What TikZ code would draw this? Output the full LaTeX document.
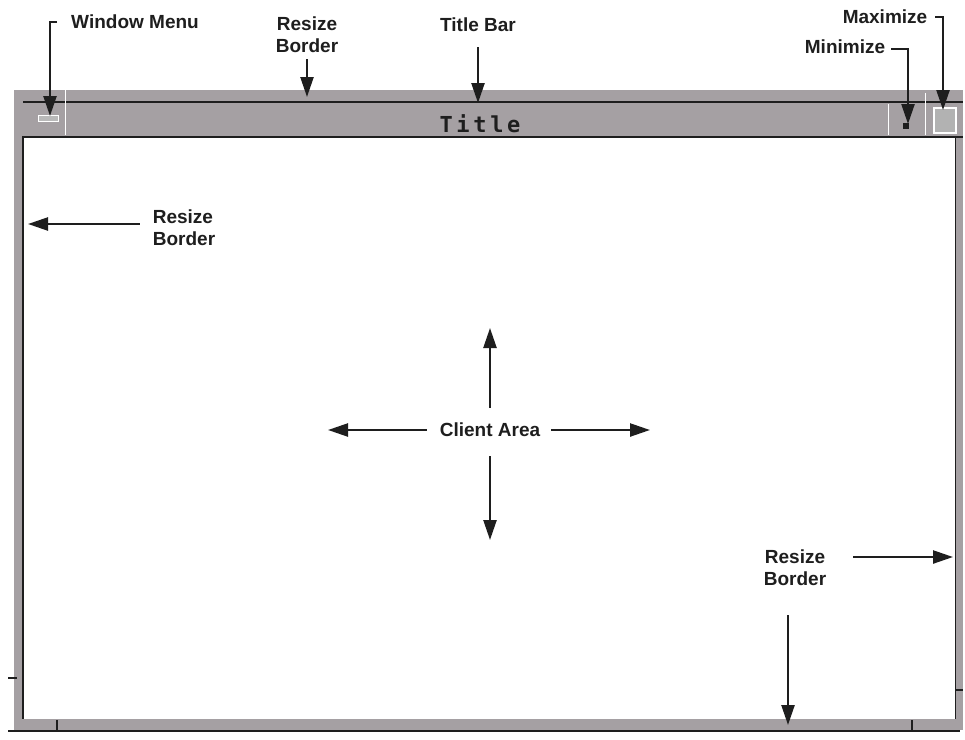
\documentclass[tikz,border=0pt]{standalone}
\usepackage{fontspec}
\setmainfont{Liberation Sans}
\setmonofont{DejaVu Sans Mono}
\usetikzlibrary{arrows.meta}
\definecolor{ink}{RGB}{30,30,30}
\definecolor{screen}{RGB}{165,160,163}
\begin{document}
\begin{tikzpicture}[x=1pt,y=-1pt,
  lbl/.style={font=\fontsize{19}{22}\selectfont\bfseries,text=ink,align=center,inner sep=1pt},
  arr/.style={draw=ink,line width=2.4pt,-{Triangle[length=20pt,width=13pt]}}]
\useasboundingbox (0,0) rectangle (965,739);
% window frame
\fill[screen] (14,90) rectangle (963,730);
\fill[white] (23,137) rectangle (955,719);
\draw[ink,line width=1.5pt] (23,102) -- (963,102);
\draw[ink,line width=2.5pt] (22,137) -- (963,137);
\draw[ink,line width=2pt] (23,137) -- (23,719);
\draw[ink,line width=2pt] (8,731) -- (960,731);
\draw[ink,line width=.8pt] (955,137) -- (955,719);
\draw[white,line width=1pt] (65,90) -- (65,135);
\draw[white,line width=1pt] (888,104) -- (888,135);
\draw[white,line width=1pt] (925,93) -- (925,135);
\foreach \x in {57,912}
\draw[ink,line width=1.5pt] (\x,720) -- (\x,730);
\draw[ink,line width=1.5pt] (8,678) -- (17,678);
\draw[ink,line width=1.5pt] (955,690) -- (963,690);
% buttons
\draw[white,fill=gray!55,line width=1pt] (38,115) rectangle (58,121);
\fill[ink] (903,123) rectangle (909,129);
\draw[white,fill=gray!60,line width=1.2pt] (934,108) rectangle (956,133);
\node[font=\fontsize{22}{22}\selectfont\ttfamily\bfseries,text=ink] (title) at (480,124) {T\,i\,t\,l\,e};
% labels
\node[lbl] (wm) at (135,22) {Window Menu};
\node[lbl] (rbtop) at (307,35) {Resize\\Border};
\node[lbl] (tb) at (478,25) {Title Bar};
\node[lbl] (max) at (885,17) {Maximize};
\node[lbl] (min) at (845,47) {Minimize};
\node[lbl,align=left] (rbleft) at (184,228) {Resize\\Border};
\node[lbl] (ca) at (490,430) {Client Area};
\node[lbl] (rbright) at (795,568) {Resize\\Border};
\coordinate (wmtip) at (50,116);
\coordinate (rbtoptip) at (307,97);
\coordinate (tbtip) at (478,103);
\coordinate (maxtip) at (943,110);
\coordinate (mintip) at (908,124);
\coordinate (rblefttip) at (28,224);
\coordinate (caup) at (490,328);
\coordinate (cadown) at (490,540);
\coordinate (caleft) at (328,430);
\coordinate (caright) at (650,430);
\coordinate (rbrighttip) at (953,557);
\coordinate (rbbottip) at (788,725);
% arrows
\draw[arr] ([xshift=-13pt]wm.west) -| (wmtip);
\draw[arr] ([yshift=-5pt]rbtop.south) -- (rbtoptip);
\draw[arr] ([yshift=-14pt]tb.south) -- (tbtip);
\draw[arr] ([xshift=7pt]max.east) -| (maxtip);
\draw[arr] ([xshift=5pt,yshift=-2pt]min.east) -| (mintip);
\draw[arr,shorten <=12pt] (rbleft.west |- rblefttip) -- (rblefttip);
\draw[arr,shorten <=14pt] (ca) -- (caup);
\draw[arr,shorten <=18pt] (ca) -- (cadown);
\draw[arr,shorten <=12pt] (ca) -- (caleft);
\draw[arr,shorten <=10pt] (ca) -- (caright);
\draw[arr,shorten <=26pt] (rbright.east |- rbrighttip) -- (rbrighttip);
\draw[arr,shorten <=28pt] (rbright.south -| rbbottip) -- (rbbottip);
\end{tikzpicture}
\end{document}
